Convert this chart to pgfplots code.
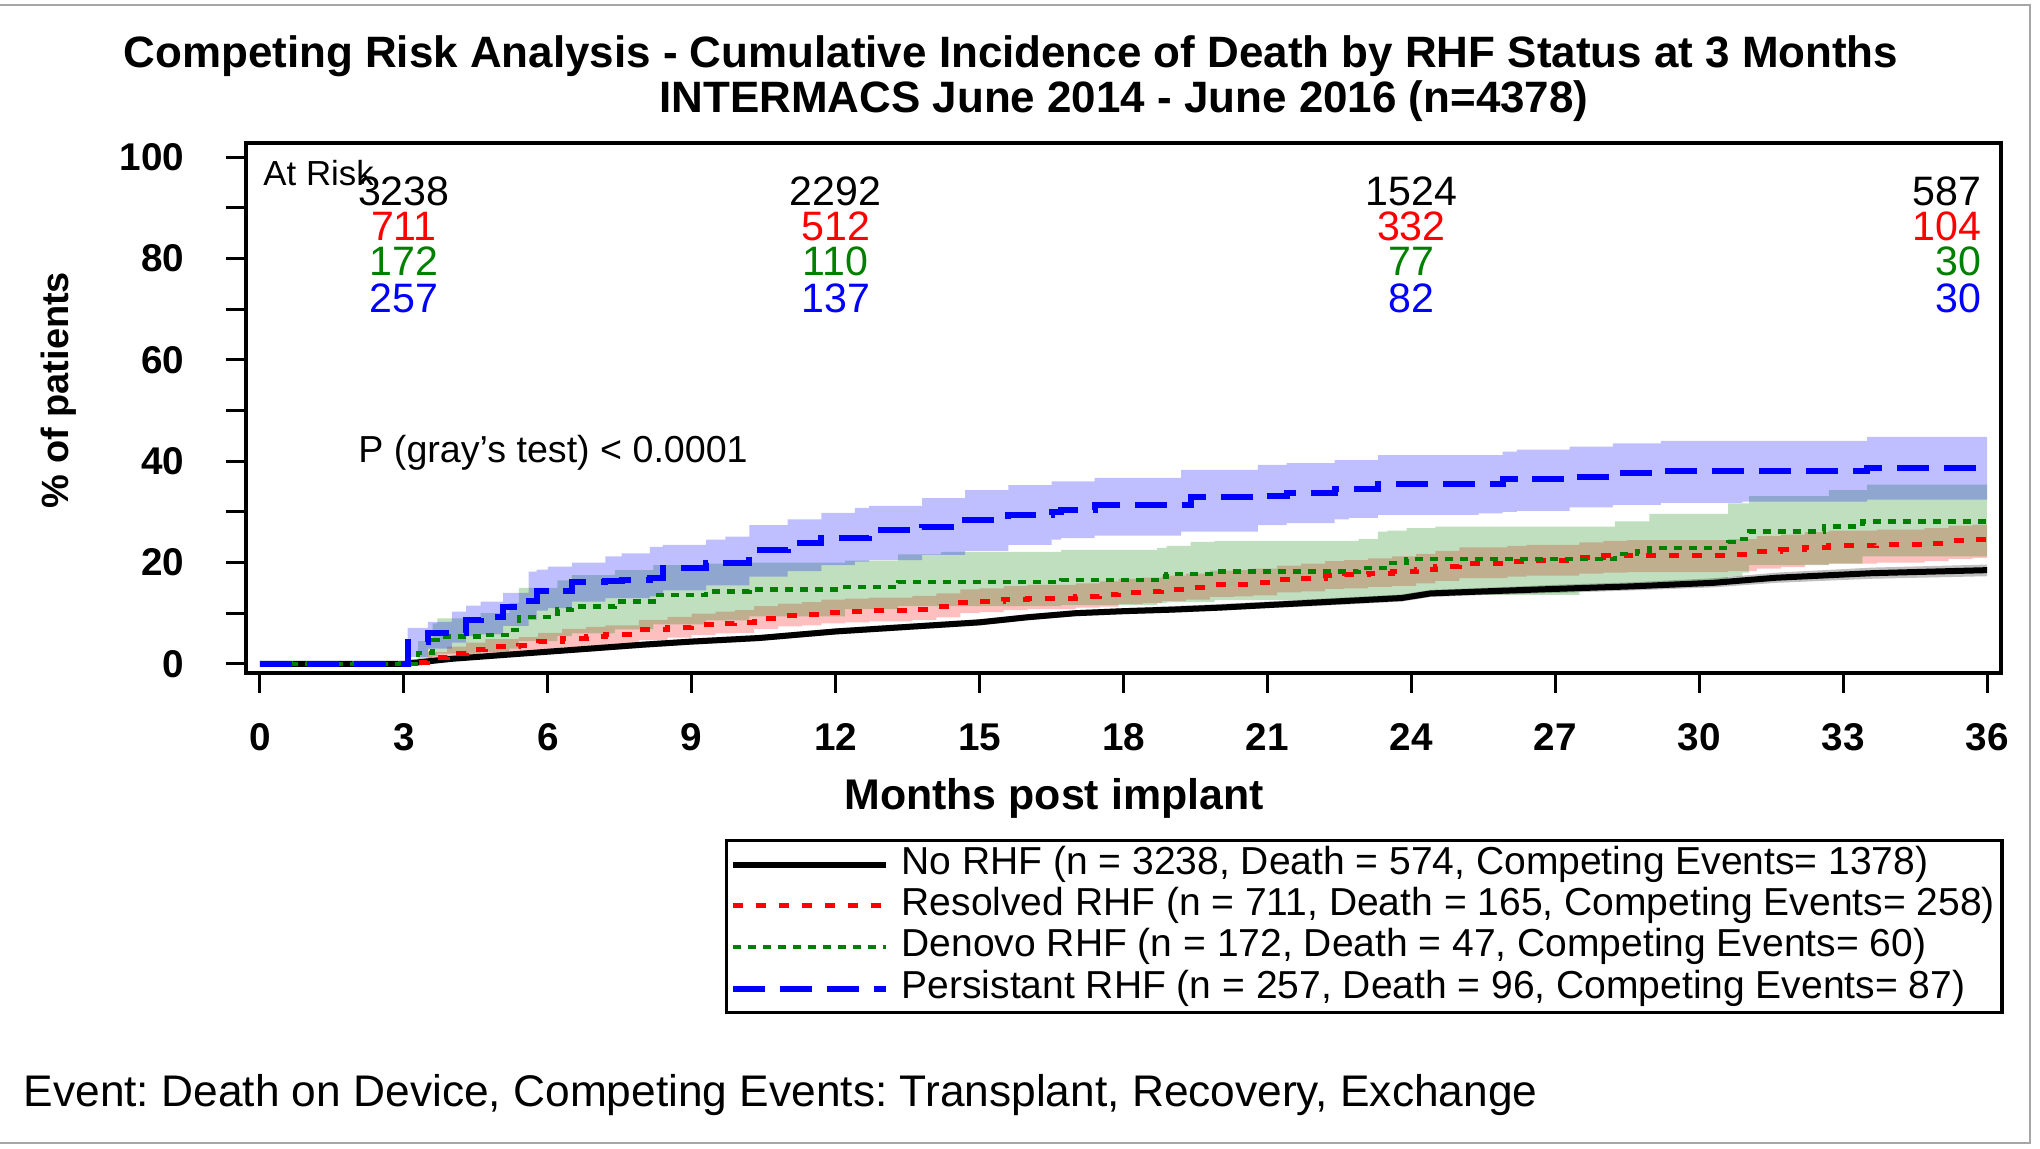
\documentclass[border=0pt]{standalone}
\usepackage{fontspec}
\setmainfont{Liberation Sans}
\usepackage{pgfplots}
\usepackage{pgfplotstable}
\pgfplotsset{compat=1.18}
\usepgfplotslibrary{fillbetween}
\definecolor{dgreen}{RGB}{0,128,0}
\newcommand\fsz[1]{\fontsize{#1}{#1}\selectfont}
\frenchspacing

\pgfplotstableread{
t y lo hi
0 0 0 0
3 0 0 0
3.5 0.5 0.2 0.8
4 1.0 0.6 1.4
5 1.7 1.2 2.2
6 2.4 1.9 2.9
7 3.1 2.5 3.6
8 3.8 3.2 4.4
9 4.4 3.8 5.0
10.4 5.1 4.5 5.7
12 6.4 5.8 7.0
13 7.0 6.4 7.6
14 7.6 7.0 8.2
15 8.2 7.6 8.8
16 9.2 8.6 9.8
17 10.0 9.4 10.6
18 10.4 9.8 11.0
19 10.7 10.1 11.4
20 11.1 10.5 11.8
21 11.6 11.0 12.3
22 12.1 11.4 12.8
23 12.6 11.9 13.3
23.8 13.0 12.3 13.7
24.4 13.9 13.2 14.6
25.5 14.3 13.6 15.0
27 14.8 14.0 15.6
28.6 15.3 14.5 16.1
30.3 16.0 15.1 16.9
31.6 17.0 16.0 18.0
33.6 17.9 16.8 19.0
36 18.5 17.3 19.6
}\tblk

\pgfplotstableread{
t y lo hi
0 0 0 0
3.1 0.3 0.0 1.0
3.5 1.2 0.3 2.3
3.9 2.1 0.9 3.4
4.3 2.8 1.5 4.2
4.7 3.4 2.0 4.9
5.4 3.7 2.2 5.3
5.8 4.4 2.7 6.1
6.3 5.1 3.3 6.9
6.8 5.4 3.5 7.3
7.2 5.7 3.8 7.6
7.9 6.7 4.7 8.7
8.5 7.2 5.2 9.3
9.0 7.7 5.7 9.9
9.5 8.0 6.0 10.3
9.9 8.2 6.1 10.6
10.3 9.0 6.9 11.4
10.8 9.5 7.4 11.9
11.3 9.7 7.6 12.2
11.7 10.1 8.0 12.7
12.2 10.3 8.2 12.9
12.7 10.5 8.4 13.1
13.6 10.8 8.7 13.4
14.1 11.3 9.2 13.9
14.6 12.1 10.0 14.7
15.0 12.3 10.2 14.9
15.5 12.8 10.6 15.4
16.0 13.0 10.8 15.6
17.0 13.3 11.1 15.9
17.5 13.6 11.3 16.3
17.9 14.1 11.8 16.8
18.4 14.3 12.0 17.0
18.8 14.7 12.4 17.4
19.3 15.1 12.7 17.8
19.8 15.6 13.2 18.4
20.3 15.7 13.3 18.5
20.7 16.0 13.5 18.8
21.2 16.6 14.1 19.4
21.7 16.9 14.3 19.8
22.2 17.4 14.8 20.3
22.6 17.6 14.9 20.5
23.1 17.9 15.2 20.8
23.6 18.2 15.4 21.2
24.1 18.7 15.9 21.7
24.5 19.3 16.4 22.3
25.0 19.9 16.9 23.0
26.0 20.3 17.2 23.3
26.4 20.5 17.4 23.5
27.5 21.0 17.8 24.0
28.0 21.3 18.0 24.3
28.5 21.4 18.1 24.4
30.6 21.6 18.3 24.6
31.2 22.2 18.8 25.2
31.7 22.5 19.1 25.5
32.2 23.0 19.6 26.0
32.7 23.3 19.8 26.3
33.7 23.5 20.0 26.5
34.7 23.8 20.3 26.8
35.2 24.3 20.7 27.3
35.7 24.5 20.9 27.5
36 24.5 20.9 27.5
}\tred

\pgfplotstableread{
t y lo hi
0 0 0 0
3.3 2.1 0.3 4.5
3.6 4.7 1.5 8.0
3.7 5.4 2.0 9.0
4.6 5.7 2.3 10.0
5.2 6.7 3.0 12.0
5.4 9.3 4.5 15.0
6.2 10.7 5.5 16.5
6.5 11.3 6.0 17.5
7.4 12.3 6.8 18.5
8.2 13.6 7.8 19.5
9.3 14.3 8.6 19.8
10.2 14.7 9.4 20.0
12.2 15.2 10.8 20.4
13.3 16.2 11.4 21.6
14.2 16.2 11.4 22.1
16.7 16.6 11.6 22.5
18.7 17.2 12.0 22.9
18.9 17.7 12.2 23.3
19.4 17.7 12.2 24.1
19.9 18.2 12.6 24.3
22.9 18.9 13.2 24.6
23.3 18.9 13.2 26.1
23.5 19.9 13.4 26.3
23.9 20.7 13.6 26.8
24.5 20.7 13.6 27.1
27.5 20.7 14.6 27.1
28.24 21.7 15.0 28.1
28.7 22.2 15.5 28.1
28.96 22.9 16.2 29.6
30.6 24.1 17.2 31.7
30.9 24.6 18.0 31.7
31.04 26.1 19.5 33.1
32.6 27.1 19.5 33.1
32.7 27.1 19.8 34.3
33.4 28.1 21.2 34.3
33.5 28.1 21.2 35.4
36 28.1 21.2 35.4
}\tgrn

\pgfplotstableread{
t y lo hi
0 0 0 0
3.08 4.4 1.4 7.1
3.5 6.1 3.0 8.3
4.0 6.1 4.2 10.3
4.3 8.7 5.5 11.5
4.6 9.3 5.8 12.3
5.07 11.3 7.5 14.0
5.6 12.5 8.7 18.2
5.77 14.3 10.5 18.6
6.0 14.3 11.0 19.2
6.5 16.2 12.3 20.0
7.2 16.4 13.0 21.2
7.54 16.6 13.0 21.8
8.13 17.0 13.3 23.1
8.4 18.9 14.5 23.5
9.3 19.9 15.5 24.5
9.7 19.9 15.5 25.1
10.2 22.5 17.2 27.4
11.0 23.9 18.3 28.5
11.7 24.8 19.5 29.8
12.4 24.8 20.2 30.8
12.7 26.4 20.5 31.2
13.8 27.1 21.5 32.7
14.7 28.4 22.3 34.3
15.6 29.4 23.5 35.3
16.5 30.0 24.5 36.0
16.7 30.4 24.8 36.0
17.4 31.4 25.3 36.7
19.2 31.4 26.1 38.3
19.4 33.0 26.1 38.3
20.8 33.2 27.4 39.3
21.4 33.7 27.8 39.6
22.4 34.5 28.5 40.2
22.7 34.5 28.8 40.2
23.3 35.5 29.4 41.2
25.4 35.5 29.7 41.2
25.9 36.4 30.0 41.9
26.2 36.4 30.2 42.3
27.3 36.9 30.9 42.9
28.2 37.6 31.4 43.5
29.2 38.1 31.8 44.0
30.9 38.1 32.0 44.0
33.5 38.7 32.4 44.8
36 38.7 32.4 44.8
}\tblu

\begin{document}
\begin{tikzpicture}
\draw[gray!70, line width=0.2mm] (0,114.3mm) -- (203mm,114.3mm) -- (203mm,0.5mm) -- (0,0.5mm);

\node[font=\bfseries\fsz{12.5pt}] at (101.1mm,109.2mm) {Competing Risk Analysis - Cumulative Incidence of Death by RHF Status at 3 Months};
\node[font=\bfseries\fsz{12.5pt}] at (112.4mm,104.7mm) {INTERMACS June 2014 - June 2016 (n=4378)};

\begin{axis}[
  at={(24.6mm,47.5mm)}, anchor=south west,
  scale only axis, width=175.5mm, height=53mm,
  xmin=-0.29, xmax=36.29, ymin=-1.8, ymax=102.8,
  xtick={0,3,...,36}, ytick={0,20,...,100}, minor ytick={10,30,...,90},
  tick align=outside, tick pos=left,
  major tick length=2mm, minor tick length=2mm,
  every tick/.style={black, line width=0.9pt},
  axis line style={line width=0.9pt},
  /pgf/number format/assume math mode=true,
  ticklabel style={font=\bfseries\fsz{11pt}},
  xticklabel style={anchor=north, inner sep=0pt, yshift=-3mm},
  yticklabel style={anchor=east, inner sep=0pt, xshift=-4.1mm},
  no markers,
  legend cell align=left,
  legend style={at={(0.273,-0.313)}, anchor=north west, draw=black, line width=0.9pt,
    inner sep=0.35mm, font=\fsz{11.1pt}, row sep=0pt,
    nodes={inner xsep=0.35mm, inner ysep=0.14mm, text height=2.9mm, text depth=0.95mm},
    /tikz/every odd column/.append style={column sep=0.9mm}},
  legend image code/.code={\draw[#1] (0mm,0mm) -- (15.3mm,0mm);},
]
% bands
\addplot[name path=kU, draw=none, forget plot] table[x=t,y=hi]{\tblk};
\addplot[name path=kL, draw=none, forget plot] table[x=t,y=lo]{\tblk};
\addplot[fill=black, fill opacity=0.25, draw=none, forget plot] fill between[of=kU and kL];
\addplot[name path=rU, draw=none, const plot, forget plot] table[x=t,y=hi]{\tred};
\addplot[name path=rL, draw=none, const plot, forget plot] table[x=t,y=lo]{\tred};
\addplot[fill=red, fill opacity=0.25, draw=none, forget plot] fill between[of=rU and rL];
\addplot[name path=gU, draw=none, const plot, forget plot] table[x=t,y=hi]{\tgrn};
\addplot[name path=gL, draw=none, const plot, forget plot] table[x=t,y=lo]{\tgrn};
\addplot[fill=dgreen, fill opacity=0.25, draw=none, forget plot] fill between[of=gU and gL];
\addplot[name path=bU, draw=none, const plot, forget plot] table[x=t,y=hi]{\tblu};
\addplot[name path=bL, draw=none, const plot, forget plot] table[x=t,y=lo]{\tblu};
\addplot[fill=blue, fill opacity=0.25, draw=none, forget plot] fill between[of=bU and bL];
% lines
\addplot[black, line width=0.6mm] table[x=t,y=y]{\tblk};
\addlegendentry{No RHF (n = 3238, Death = 574, Competing Events= 1378)}
\addplot[red, line width=0.5mm, const plot, dash pattern=on 1.0mm off 1.3mm] table[x=t,y=y]{\tred};
\addlegendentry{Resolved RHF (n = 711, Death = 165, Competing Events= 258)}
\addplot[dgreen, line width=0.45mm, const plot, dash pattern=on 0.8mm off 0.7mm] table[x=t,y=y]{\tgrn};
\addlegendentry{Denovo RHF (n = 172, Death = 47, Competing Events= 60)}
\addplot[blue, line width=0.6mm, const plot, dash pattern=on 3.2mm off 1.5mm] table[x=t,y=y]{\tblu};
\addlegendentry{Persistant RHF (n = 257, Death = 96, Competing Events= 87)}

% at risk
\node[anchor=west, inner sep=0pt, font=\fsz{9.9pt}] at (axis cs:0.06,96.8) {At Risk};
\begin{scope}[every node/.style={font=\fsz{11.7pt}, inner sep=0pt}]
\node[black] at (axis cs:3,93.3) {3238};
\node[red] at (axis cs:3,86.3) {711};
\node[dgreen] at (axis cs:3,79.4) {172};
\node[blue] at (axis cs:3,72.2) {257};
\node[black] at (axis cs:12,93.3) {2292};
\node[red] at (axis cs:12,86.3) {512};
\node[dgreen] at (axis cs:12,79.4) {110};
\node[blue] at (axis cs:12,72.2) {137};
\node[black] at (axis cs:24,93.3) {1524};
\node[red] at (axis cs:24,86.3) {332};
\node[dgreen] at (axis cs:24,79.4) {77};
\node[blue] at (axis cs:24,72.2) {82};
\node[black, anchor=east] at (axis cs:35.9,93.3) {587};
\node[red, anchor=east] at (axis cs:35.9,86.3) {104};
\node[dgreen, anchor=east] at (axis cs:35.9,79.4) {30};
\node[blue, anchor=east] at (axis cs:35.9,72.2) {30};
\end{scope}
\node[anchor=west, inner sep=0pt, font=\fsz{10.7pt}] at (axis cs:2.04,41.7) {P (gray’s test) < 0.0001};
\end{axis}

\node[font=\bfseries\fsz{12.2pt}] at (105.4mm,35.0mm) {Months post implant};
\node[font=\bfseries\fsz{10.8pt}, rotate=90] at (5.9mm,75.8mm) {\% of patients};
\node[anchor=west, font=\fsz{12.6pt}, inner sep=0pt] at (2.3mm,5.3mm) {Event: Death on Device, Competing Events: Transplant, Recovery, Exchange};
\pgfresetboundingbox
\path[use as bounding box] (0,0) rectangle (204mm,114.8mm);
\end{tikzpicture}
\end{document}
